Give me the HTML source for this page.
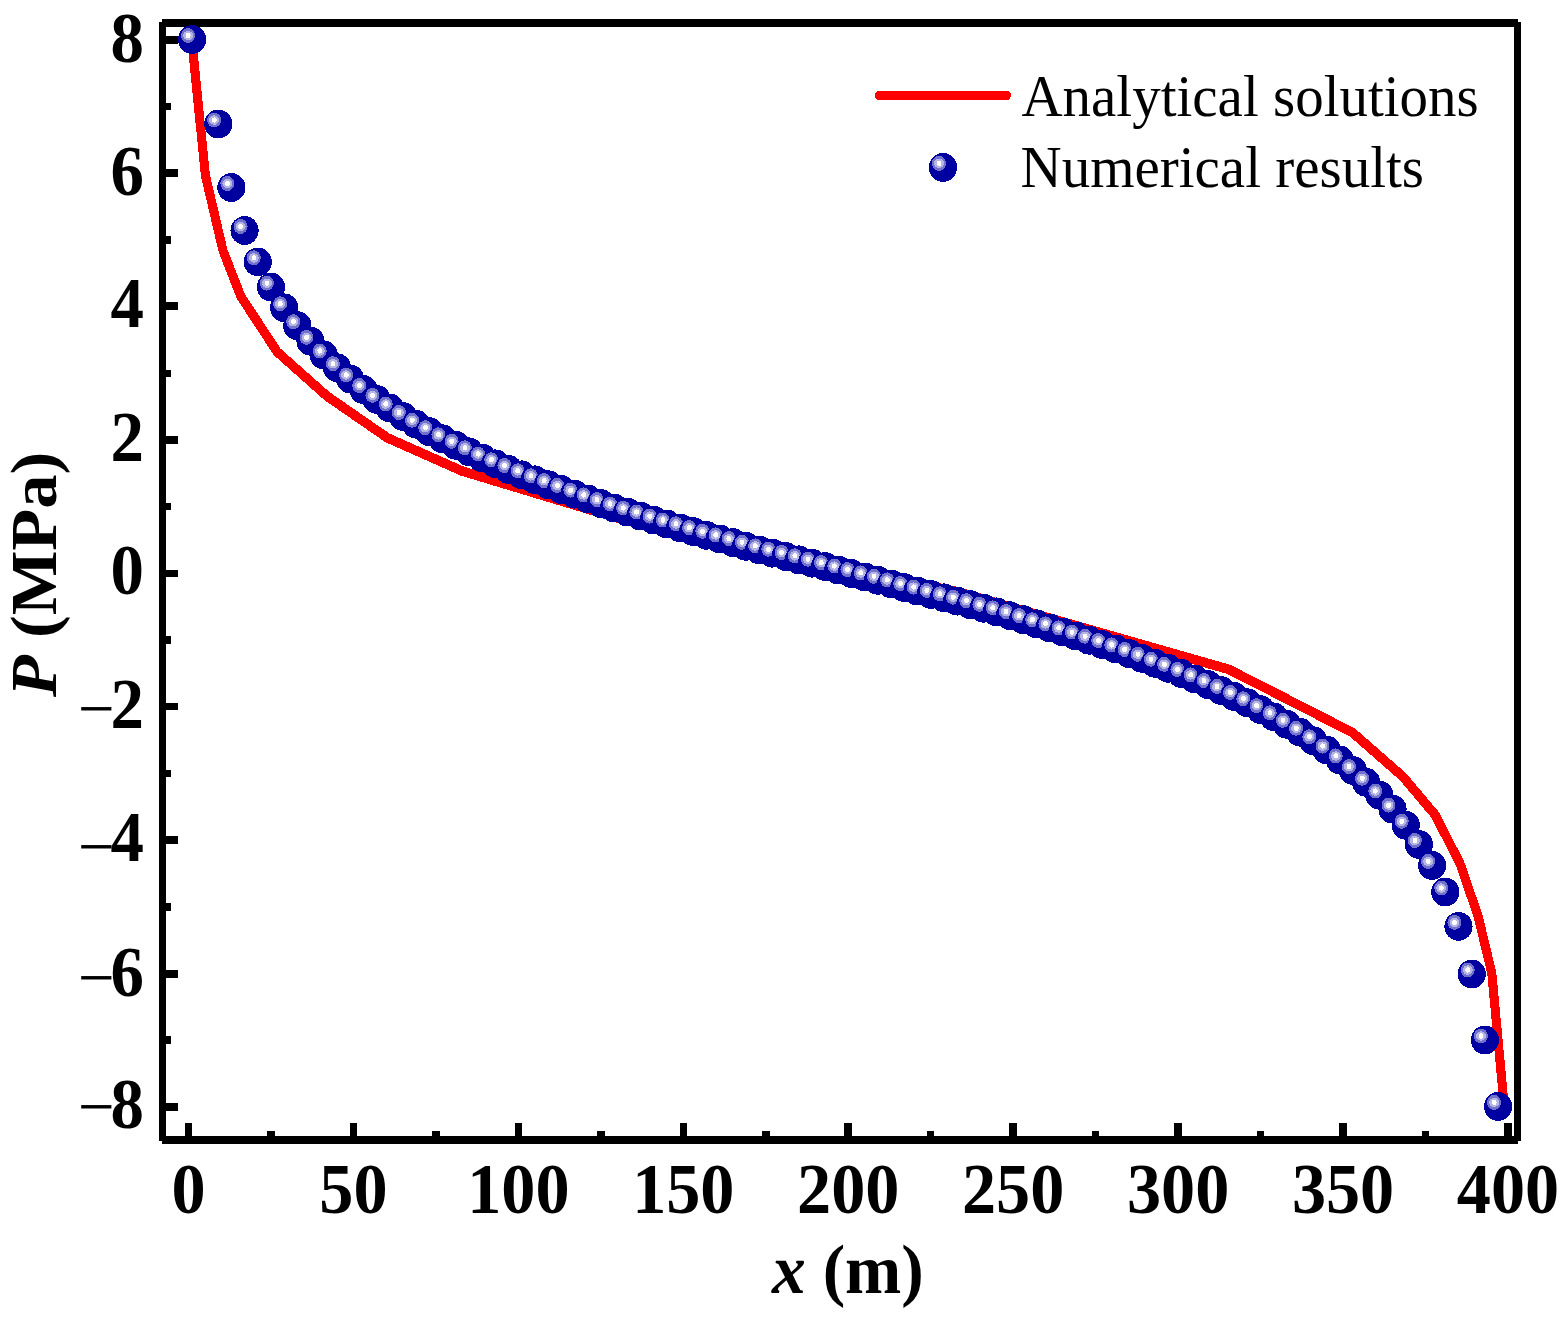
<!DOCTYPE html>
<html lang="en"><head><meta charset="utf-8"><title>P (MPa) vs x (m)</title>
<style>html,body{margin:0;padding:0;background:#fff}body{width:1565px;height:1323px;overflow:hidden}svg{display:block}text{font-family:"Liberation Serif","Times New Roman",serif;fill:#000}.b{font-weight:bold}.bi{font-weight:bold;font-style:italic}</style></head><body>
<svg width="1565" height="1323" viewBox="0 0 1565 1323" shape-rendering="crispEdges">
<defs><g id="b"><ellipse rx="14.1" ry="14.4" fill="#0000a0"/><ellipse cx="-4.05" cy="-4" rx="7" ry="7.5" fill="#7272cc"/><ellipse cx="-4" cy="-3.95" rx="5" ry="4.7" fill="#b6b6e4"/><ellipse cx="-3.9" cy="-4" rx="2.4" ry="2.6" fill="#fff"/></g></defs>
<rect width="1565" height="1323" fill="#fff"/>
<g fill="#000"><rect x="185" y="1123" width="7" height="14"/><rect x="267" y="1131" width="8" height="6"/><rect x="350" y="1123" width="7" height="14"/><rect x="432" y="1131" width="8" height="6"/><rect x="515" y="1123" width="7" height="14"/><rect x="597" y="1131" width="8" height="6"/><rect x="680" y="1123" width="7" height="14"/><rect x="762" y="1131" width="8" height="6"/><rect x="844" y="1123" width="8" height="14"/><rect x="927" y="1131" width="7" height="6"/><rect x="1009" y="1123" width="8" height="14"/><rect x="1092" y="1131" width="7" height="6"/><rect x="1174" y="1123" width="8" height="14"/><rect x="1257" y="1131" width="7" height="6"/><rect x="1339" y="1123" width="8" height="14"/><rect x="1422" y="1131" width="7" height="6"/><rect x="1504" y="1123" width="8" height="14"/><rect x="165" y="1103" width="13" height="8"/><rect x="165" y="1036" width="6" height="8"/><rect x="165" y="970" width="13" height="8"/><rect x="165" y="903" width="6" height="8"/><rect x="165" y="836" width="13" height="8"/><rect x="165" y="770" width="6" height="7"/><rect x="165" y="703" width="13" height="7"/><rect x="165" y="636" width="6" height="8"/><rect x="165" y="570" width="13" height="7"/><rect x="165" y="503" width="6" height="7"/><rect x="165" y="436" width="13" height="8"/><rect x="165" y="370" width="6" height="7"/><rect x="165" y="302" width="13" height="8"/><rect x="165" y="236" width="6" height="8"/><rect x="165" y="169" width="13" height="8"/><rect x="165" y="103" width="6" height="7"/><rect x="165" y="36" width="13" height="8"/>
<rect x="159" y="22.3" width="7" height="1118.5"/>
<rect x="1514.2" y="22.3" width="6.8" height="1118.5"/>
<rect x="162.1" y="19" width="1355.9" height="7.7"/>
<rect x="162.1" y="1136" width="1355.9" height="8"/>
</g>
<polyline transform="scale(1 1.06)" fill="none" stroke="#ff0000" stroke-width="9.1" stroke-linejoin="round" stroke-linecap="butt" points="191.8,37.74 205.4,165.47 223,236.42 240.9,279.72 277.2,331.98 326.8,373.58 387.3,413.02 461.7,444.25 618.3,488.87 646.39,495.51 674.48,501.99 702.57,508.05 730.67,513.95 758.76,519.83 786.85,524.99 814.94,530.28 843.03,535.78 871.12,541.19 899.22,546.89 927.31,552.43 955.4,557.74 1228.9,631.51 1352.6,691.13 1402.9,732.64 1435.2,768.87 1460,814.62 1478.2,864.62 1491.8,918.02 1504.3,1044.34"/>
<g><use href="#b" x="192.1" y="39.5"/><use href="#b" x="218.19" y="124"/><use href="#b" x="231.38" y="187.5"/><use href="#b" x="244.58" y="230.5"/><use href="#b" x="257.77" y="261.9"/><use href="#b" x="270.97" y="287.1"/><use href="#b" x="284.16" y="307.8"/><use href="#b" x="297.36" y="325.7"/><use href="#b" x="310.55" y="341.3"/><use href="#b" x="323.75" y="355"/><use href="#b" x="336.94" y="367.7"/><use href="#b" x="350.14" y="379"/><use href="#b" x="363.33" y="389.5"/><use href="#b" x="376.53" y="399.35"/><use href="#b" x="389.72" y="408"/><use href="#b" x="402.92" y="416.5"/><use href="#b" x="416.11" y="424.2"/><use href="#b" x="429.31" y="431.7"/><use href="#b" x="442.5" y="438.8"/><use href="#b" x="455.69" y="445.3"/><use href="#b" x="468.89" y="451.8"/><use href="#b" x="482.08" y="458"/><use href="#b" x="495.28" y="463.8"/><use href="#b" x="508.47" y="469.49"/><use href="#b" x="521.67" y="474.81"/><use href="#b" x="534.86" y="479.84"/><use href="#b" x="548.06" y="484.7"/><use href="#b" x="561.25" y="489.45"/><use href="#b" x="574.45" y="494.16"/><use href="#b" x="587.64" y="498.95"/><use href="#b" x="600.84" y="503.64"/><use href="#b" x="614.03" y="507.98"/><use href="#b" x="627.23" y="512.02"/><use href="#b" x="640.42" y="516.03"/><use href="#b" x="653.62" y="520.08"/><use href="#b" x="666.81" y="524.02"/><use href="#b" x="680.01" y="527.88"/><use href="#b" x="693.2" y="531.62"/><use href="#b" x="706.4" y="535.29"/><use href="#b" x="719.59" y="538.95"/><use href="#b" x="732.79" y="542.61"/><use href="#b" x="745.98" y="546.33"/><use href="#b" x="759.18" y="549.9"/><use href="#b" x="772.37" y="553.2"/><use href="#b" x="785.56" y="556.48"/><use href="#b" x="798.76" y="559.82"/><use href="#b" x="811.95" y="563.17"/><use href="#b" x="825.15" y="566.55"/><use href="#b" x="838.34" y="570.04"/><use href="#b" x="851.54" y="573.6"/><use href="#b" x="864.73" y="576.96"/><use href="#b" x="877.93" y="580.3"/><use href="#b" x="891.12" y="583.92"/><use href="#b" x="904.32" y="587.58"/><use href="#b" x="917.51" y="591.05"/><use href="#b" x="930.71" y="594.44"/><use href="#b" x="943.9" y="597.8"/><use href="#b" x="957.1" y="601.16"/><use href="#b" x="970.29" y="604.68"/><use href="#b" x="983.49" y="608.28"/><use href="#b" x="996.68" y="611.85"/><use href="#b" x="1009.88" y="615.62"/><use href="#b" x="1023.07" y="619.68"/><use href="#b" x="1036.27" y="623.78"/><use href="#b" x="1049.46" y="627.83"/><use href="#b" x="1062.66" y="631.92"/><use href="#b" x="1075.85" y="636.06"/><use href="#b" x="1089.05" y="640.25"/><use href="#b" x="1102.24" y="644.54"/><use href="#b" x="1115.43" y="648.92"/><use href="#b" x="1128.63" y="653.47"/><use href="#b" x="1141.82" y="658.3"/><use href="#b" x="1155.02" y="663.3"/><use href="#b" x="1168.21" y="668.3"/><use href="#b" x="1181.41" y="673.45"/><use href="#b" x="1194.6" y="678.9"/><use href="#b" x="1207.8" y="684.6"/><use href="#b" x="1220.99" y="690.48"/><use href="#b" x="1234.19" y="696.48"/><use href="#b" x="1247.38" y="702.8"/><use href="#b" x="1260.58" y="709.67"/><use href="#b" x="1273.77" y="716.85"/><use href="#b" x="1286.97" y="724.3"/><use href="#b" x="1300.16" y="732.25"/><use href="#b" x="1313.36" y="740.77"/><use href="#b" x="1326.55" y="750"/><use href="#b" x="1339.75" y="759.96"/><use href="#b" x="1352.94" y="770.55"/><use href="#b" x="1366.14" y="782.3"/><use href="#b" x="1379.33" y="795"/><use href="#b" x="1392.53" y="809.15"/><use href="#b" x="1405.72" y="825.3"/><use href="#b" x="1418.92" y="844.5"/><use href="#b" x="1432.11" y="865.4"/><use href="#b" x="1445.3" y="892"/><use href="#b" x="1458.5" y="926.4"/><use href="#b" x="1471.69" y="974"/><use href="#b" x="1484.89" y="1040"/><use href="#b" x="1498.08" y="1106.4"/></g>
<line transform="scale(1 1.06)" x1="879.4" y1="90" x2="1006.4" y2="90" stroke="#ff0000" stroke-width="9.1" stroke-linecap="round"/>
<use href="#b" x="943.0" y="167.4"/>
<text transform="translate(1021.4 115.6) scale(0.95 1.0)" font-size="60" text-anchor="start">Analytical solutions</text>
<text transform="translate(1020.5 186.8) scale(0.95 1.0)" font-size="60" text-anchor="start">Numerical results</text>
<text transform="translate(188.5 1212.5) scale(0.975 1.04)" font-size="70" text-anchor="middle" class="b">0</text>
<text transform="translate(353.44 1212.5) scale(0.975 1.04)" font-size="70" text-anchor="middle" class="b">50</text>
<text transform="translate(518.37 1212.5) scale(0.975 1.04)" font-size="70" text-anchor="middle" class="b">100</text>
<text transform="translate(683.31 1212.5) scale(0.975 1.04)" font-size="70" text-anchor="middle" class="b">150</text>
<text transform="translate(848.24 1212.5) scale(0.975 1.04)" font-size="70" text-anchor="middle" class="b">200</text>
<text transform="translate(1013.18 1212.5) scale(0.975 1.04)" font-size="70" text-anchor="middle" class="b">250</text>
<text transform="translate(1178.11 1212.5) scale(0.975 1.04)" font-size="70" text-anchor="middle" class="b">300</text>
<text transform="translate(1343.05 1212.5) scale(0.975 1.04)" font-size="70" text-anchor="middle" class="b">350</text>
<text transform="translate(1507.98 1212.5) scale(0.975 1.04)" font-size="70" text-anchor="middle" class="b">400</text>
<text transform="translate(144 61.5) scale(0.955 1.02)" font-size="70" text-anchor="end" class="b">8</text>
<text transform="translate(144 194.5) scale(0.955 1.02)" font-size="70" text-anchor="end" class="b">6</text>
<text transform="translate(144 326.9) scale(0.955 1.02)" font-size="70" text-anchor="end" class="b">4</text>
<text transform="translate(144 460.8) scale(0.955 1.02)" font-size="70" text-anchor="end" class="b">2</text>
<text transform="translate(144 594.4) scale(0.955 1.02)" font-size="70" text-anchor="end" class="b">0</text>
<text transform="translate(144 727.95) scale(0.955 1.02)" font-size="70" text-anchor="end" class="b"><tspan x="-69.42" y="3.9" font-size="68" font-weight="normal" text-anchor="start">−</tspan><tspan x="0" y="0" text-anchor="end">2</tspan></text>
<text transform="translate(144 860.9) scale(0.955 1.02)" font-size="70" text-anchor="end" class="b"><tspan x="-69.42" y="8.46" font-size="68" font-weight="normal" text-anchor="start">−</tspan><tspan x="0" y="0" text-anchor="end">4</tspan></text>
<text transform="translate(144 995.5) scale(0.955 1.02)" font-size="70" text-anchor="end" class="b"><tspan x="-69.42" y="4.93" font-size="68" font-weight="normal" text-anchor="start">−</tspan><tspan x="0" y="0" text-anchor="end">6</tspan></text>
<text transform="translate(144 1128.4) scale(0.955 1.02)" font-size="70" text-anchor="end" class="b"><tspan x="-69.42" y="1.5" font-size="68" font-weight="normal" text-anchor="start">−</tspan><tspan x="0" y="0" text-anchor="end">8</tspan></text>
<text transform="translate(772 1293.3) scale(0.993 1.018)" font-size="68" text-anchor="start" class="b"><tspan class="bi">x</tspan> (m)</text>
<text transform="translate(56.2 697) rotate(-90) scale(1.007 0.976)" font-size="68" text-anchor="start" class="b"><tspan class="bi">P</tspan> (MPa)</text>
</svg></body></html>
